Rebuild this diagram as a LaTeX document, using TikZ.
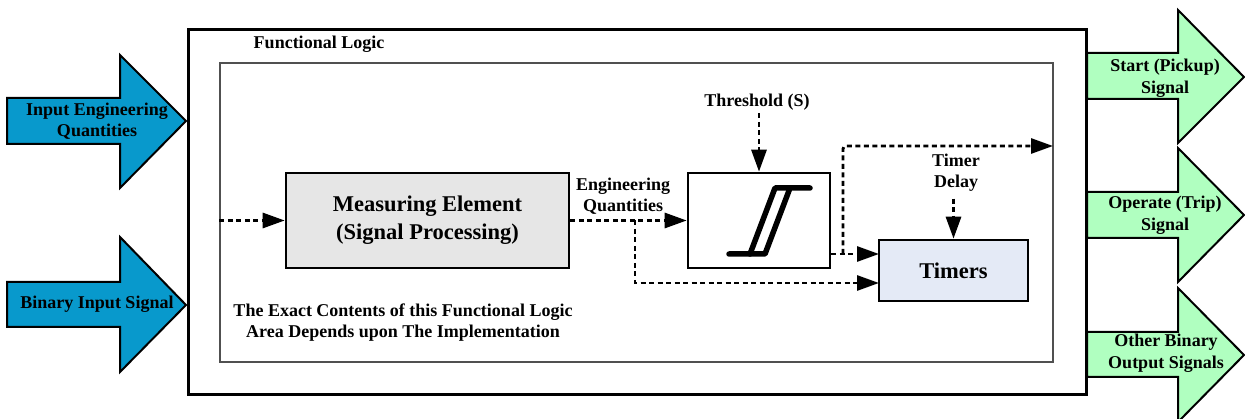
\documentclass[tikz,border=0pt]{standalone}
\usepackage{fontspec}
\setmainfont{Liberation Serif}
\usetikzlibrary{arrows.meta}
\definecolor{inblue}{RGB}{8,153,204}
\definecolor{outgreen}{RGB}{176,255,192}
\definecolor{measfill}{RGB}{230,230,230}
\definecolor{timfill}{RGB}{228,234,246}
\definecolor{innergray}{RGB}{80,80,80}
\tikzset{
  lbl/.style={font=\bfseries\fontsize{18}{21.5}\selectfont, align=center, inner sep=0pt},
  biglbl/.style={font=\bfseries\fontsize{22.5}{28}\selectfont, align=center},
  box/.style={draw, line width=2.6pt, inner sep=0pt},
  dline/.style={line width=2.9pt, dash pattern=on 5pt off 3.5pt, -{Triangle[length=22pt,width=15pt]}},
  blockarrow/.style={draw, line width=2pt, line join=miter},
  hyst/.style={line width=5.5pt, line cap=round, line join=round}
}
\begin{document}
\begin{tikzpicture}[x=1pt,y=-1pt]
\useasboundingbox (0,0) rectangle (1245,419);
% outer and inner frames
\node[draw, line width=3pt, minimum width=898pt, minimum height=365pt, inner sep=0pt] (outer) at (637,212.5) {};
\node[draw=innergray, line width=1.5pt, minimum width=833pt, minimum height=299pt, inner sep=0pt] (inner) at (636.5,212.5) {};
\node[lbl] (fl) at (319,44) {Functional Logic};
% input block arrows
\path[blockarrow, fill=inblue] (7,98) -- (120,98) -- (120,55) -- (186,121) -- (120,188) -- (120,144) -- (7,144) -- cycle;
\node[lbl] (in1) at (97,121) {Input Engineering\\Quantities};
\path[blockarrow, fill=inblue] (7,282) -- (120,282) -- (120,237) -- (186,305) -- (120,372) -- (120,327) -- (7,327) -- cycle;
\node[lbl] (in2) at (97,304) {Binary Input Signal};
% output block arrows
\path[blockarrow, fill=outgreen] (1087,53) -- (1178,53) -- (1178,10) -- (1244,77) -- (1178,143) -- (1178,99) -- (1087,99) -- cycle;
\node[lbl] (o1) at (1165,78) {Start (Pickup)\\Signal};
\path[blockarrow, fill=outgreen] (1087,192) -- (1178,192) -- (1178,148) -- (1244,215) -- (1178,282) -- (1178,238) -- (1087,238) -- cycle;
\node[lbl] (o2) at (1165,215) {Operate (Trip)\\Signal};
\path[blockarrow, fill=outgreen] (1087,332) -- (1178,332) -- (1178,288) -- (1244,355) -- (1178,422) -- (1178,377) -- (1087,377) -- cycle;
\node[lbl] (o3) at (1166,353) {Other Binary\\Output Signals};
% blocks
\node[box, fill=measfill, minimum width=283pt, minimum height=95pt, biglbl] (meas) at (427.5,220.5) {Measuring Element\\(Signal Processing)};
\node[box, minimum width=142pt, minimum height=95pt] (thr) at (759,220.5) {};
\node[box, fill=timfill, minimum width=149pt, minimum height=61pt, biglbl] (tim) at (953.5,270.5) {Timers};
% hysteresis symbol
\draw[hyst] (729,254) -- (765,254) -- (790,188) -- (810,188);
\draw[hyst] (750,254) -- (775,188) -- (790,188);
% labels
\node[lbl] (eq) at (623,196) {Engineering\\Quantities};
\node[lbl] (S) at (757,102) {Threshold (S)};
\node[lbl] (TD) at (956,172.5) {Timer\\Delay};
\node[lbl] (note) at (403,322.5) {The Exact Contents of this Functional Logic\\Area Depends upon The Implementation};
% coordinates
\coordinate (b1) at (635,220.5);
\coordinate (t1) at (879,254);
\coordinate (t2) at (879,283);
\coordinate (b2) at (843,254);
\coordinate (outS) at (1053,146);
% connectors
\draw[dline] (inner.west |- meas.west) -- (meas.west);
\draw[dline] (meas.east) -- (thr.west);
\draw[dline] (b1) |- (t2);
\draw[dline] (thr.east |- t1) -- (t1);
\draw[dline, rounded corners=3pt] (b2) |- (outS);
\draw[dline, shorten <=3pt] (S.south -| thr.north) -- (thr.north);
\draw[dline, shorten <=7pt] (TD.south -| tim.north) -- (tim.north);
\end{tikzpicture}
\end{document}
